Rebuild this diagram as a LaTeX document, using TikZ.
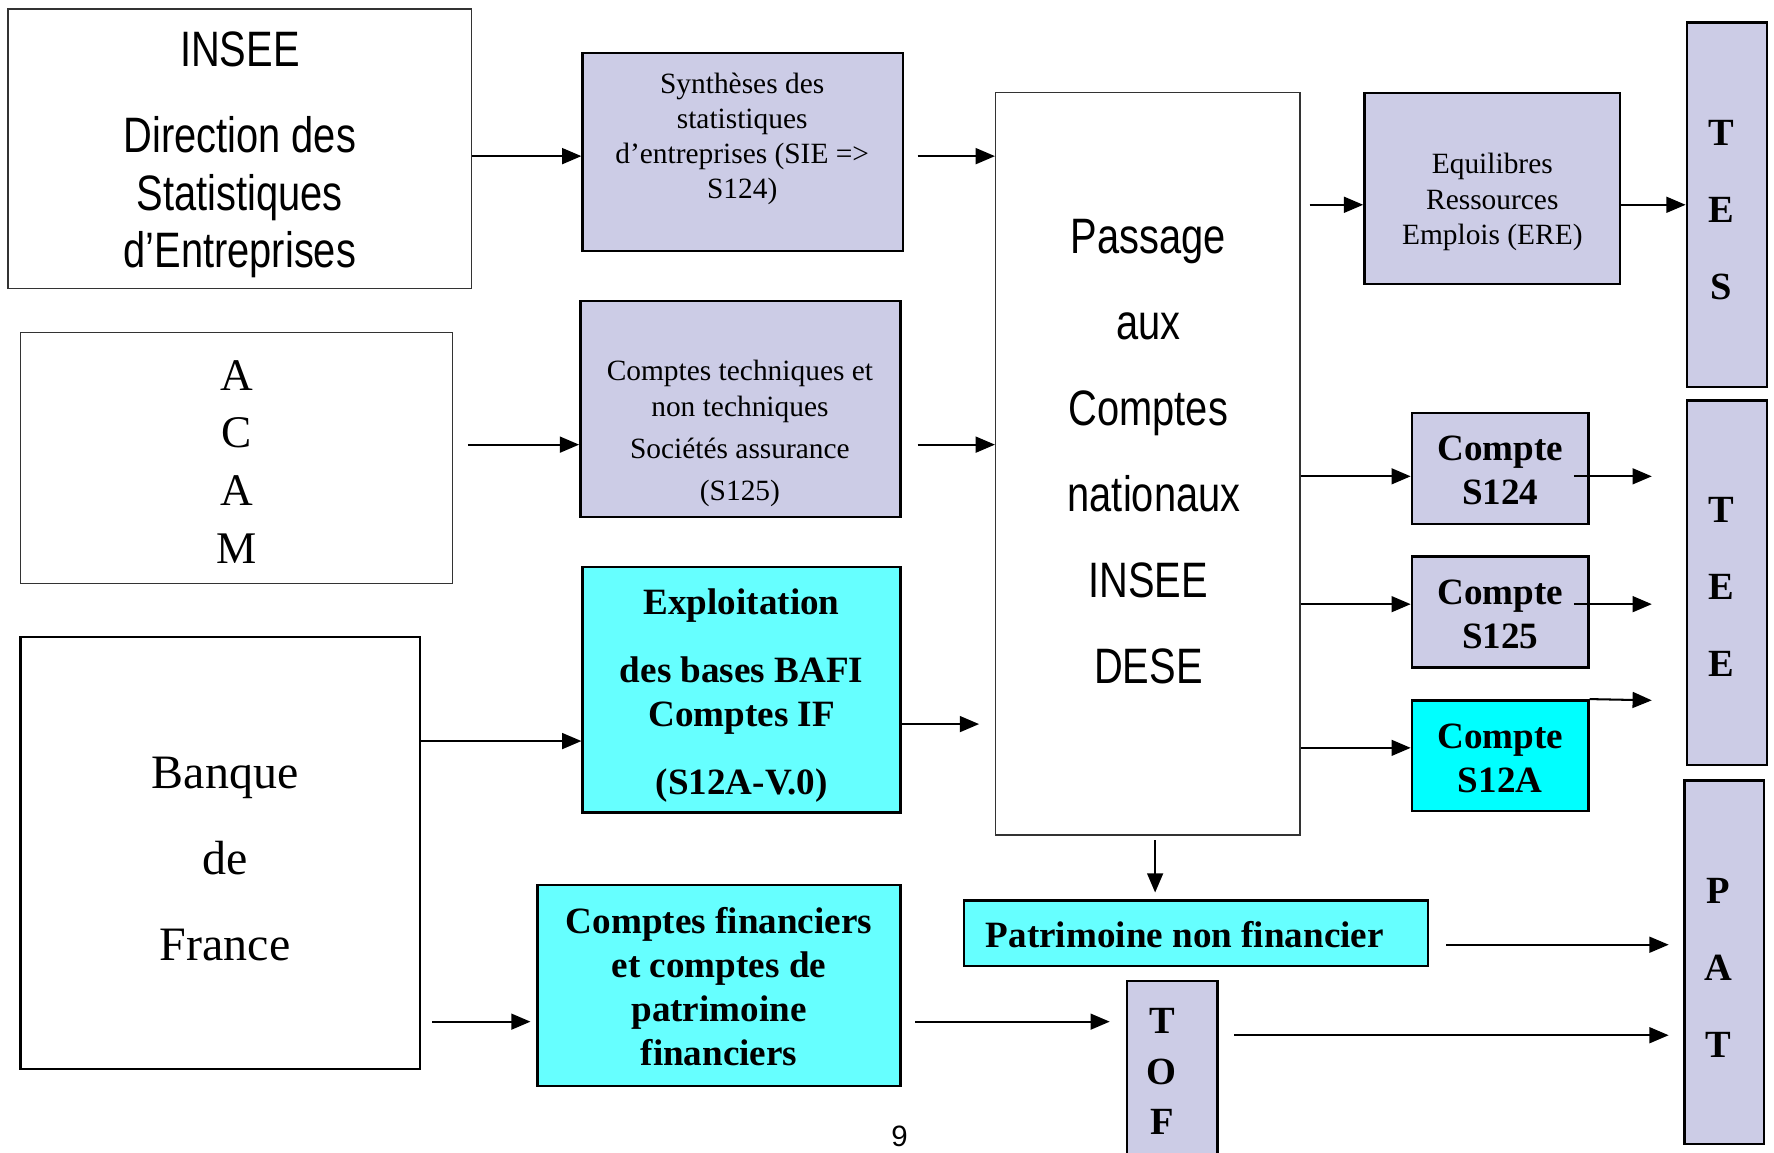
\documentclass[tikz,border=0pt]{standalone}
\usepackage{fontspec}
\setmainfont{Liberation Serif}
\newfontfamily\narrowsans[FakeStretch=0.8]{Liberation Sans}
\newfontfamily\plainsans{Liberation Sans}
\usetikzlibrary{arrows.meta}
\definecolor{lav}{RGB}{204,204,230}
\definecolor{cyl}{RGB}{102,255,255}
\definecolor{cyf}{RGB}{0,255,255}
\begin{document}
\begin{tikzpicture}[x=0.5pt,y=-0.5pt,
  thinbox/.style={draw=black!80,line width=0.6pt,fill=white,inner sep=0pt},
  lavbox/.style={draw=black,line width=1.1pt,fill=lav,inner sep=0pt},
  cybox/.style={draw=black,line width=1.1pt,fill=cyl,inner sep=0pt},
  arr/.style={-{Triangle[length=8.5pt,width=7pt]},line width=0.9pt},
  txt/.style={inner sep=0pt,align=center},
  bigsans/.style={font=\narrowsans\fontsize{22}{25.5}\selectfont},
  smallserif/.style={font=\fontsize{13}{15.5}\selectfont},
  boldserif/.style={font=\bfseries\fontsize{16.4}{19.5}\selectfont},
  letters/.style={font=\bfseries\fontsize{17}{34}\selectfont}]
\useasboundingbox (0,0) rectangle (1568,1019);
\clip (0,0) rectangle (1568,1019);
\fill[white] (0,0) rectangle (1568,1019);

% left column
\node[thinbox,minimum width=205pt,minimum height=123.5pt] (insee) at (212,131.5) {};
\node[txt,bigsans] (inseeT) at (212,137)
  {INSEE\\[12.5pt]Direction des\\Statistiques\\d’Entreprises};
\node[thinbox,minimum width=191pt,minimum height=111pt] (acam) at (209,405) {};
\node[txt,font=\fontsize{20}{25.5}\selectfont] (acamT) at (209,408) {A\\C\\A\\M};
\node[thinbox,draw=black,line width=1.1pt,minimum width=176.5pt,minimum height=191pt] (banque) at (194.5,754) {};
\node[txt,font=\fontsize{21.2}{38}\selectfont] (banqueT) at (199,759.5) {Banque\\de\\France};

% second column
\node[lavbox,minimum width=141.5pt,minimum height=87.5pt] (synth) at (656.5,134.5) {};
\node[txt,smallserif] (synthT) at (656,122.5)
  {Synthèses des\\statistiques\\d’entreprises (SIE =>\\S124)};
\node[lavbox,minimum width=141.5pt,minimum height=95.5pt] (ctech) at (654.5,361.5) {};
\node[txt,font=\fontsize{13}{16}\selectfont] (ctechT) at (654,383)
  {Comptes techniques et\\non techniques\\[2.5pt]Sociétés assurance\\[2.5pt](S125)};
\node[cybox,minimum width=140.5pt,minimum height=108.5pt] (expl) at (655.5,609.5) {};
\node[txt,boldserif] (explT) at (655.5,614.5)
  {Exploitation\\[10.5pt]des bases BAFI\\Comptes IF\\[10.5pt](S12A-V.0)};
\node[cybox,minimum width=160.5pt,minimum height=89pt] (cfin) at (635.5,871) {};
\node[txt,boldserif] (cfinT) at (635.5,872)
  {Comptes financiers\\et comptes de\\patrimoine\\financiers};

% central
\node[thinbox,minimum width=134.5pt,minimum height=328pt] (passage) at (1014.5,410) {};
\node[txt,font=\narrowsans\fontsize{22}{38}\selectfont] (passageT) at (1015,399)
  {Passage\\aux\\Comptes\\\hspace*{5pt}nationaux\\INSEE\\DESE};
\node[cybox,minimum width=205pt,minimum height=29pt] (patnf) at (1057,825) {};
\node[txt,anchor=west,boldserif] (patnfT) at (871,826) {Patrimoine non financier};
\node[lavbox,minimum width=40pt,minimum height=79pt] (tof) at (1036,946) {};
\node[txt,font=\bfseries\fontsize{17}{22.5}\selectfont] (tofT) at (1027,947) {T\\O\\F};

% right
\node[lavbox,minimum width=113pt,minimum height=84.5pt] (ere) at (1319,166.5) {};
\node[txt,font=\fontsize{13}{15.75}\selectfont] (ereT) at (1319,178.5)
  {Equilibres\\Ressources\\Emplois (ERE)};
\node[lavbox,minimum width=78pt,minimum height=49pt] (s124) at (1326,414) {};
\node[txt,boldserif] (s124T) at (1326,416) {Compte\\S124};
\node[lavbox,minimum width=78pt,minimum height=49pt] (s125) at (1326,541) {};
\node[txt,boldserif] (s125T) at (1326,543) {Compte\\S125};
\node[cybox,fill=cyf,minimum width=78pt,minimum height=49pt] (s12a) at (1326,668) {};
\node[txt,boldserif] (s12aT) at (1326,670) {Compte\\S12A};

\node[lavbox,minimum width=35.5pt,minimum height=161pt] (tes) at (1526.5,181) {};
\node[txt,letters] (tesT) at (1521,186) {T\\E\\S};
\node[lavbox,minimum width=35.5pt,minimum height=161pt] (tee) at (1526.5,515) {};
\node[txt,letters] (teeT) at (1521,519) {T\\E\\E};
\node[lavbox,minimum width=35pt,minimum height=160.5pt] (pat) at (1524,850.5) {};
\node[txt,letters] (patT) at (1519,855.5) {P\\A\\T};

\node[inner sep=0pt,font=\plainsans\fontsize{13}{15}\selectfont] (pagenum) at (795,1004) {9};

% helper coordinates
\coordinate (y138) at (0,138);
\coordinate (y181) at (0,181);
\coordinate (y393) at (0,393);
\coordinate (y421) at (0,421);
\coordinate (y534) at (0,534);
\coordinate (y640) at (0,640);
\coordinate (y655) at (0,655);
\coordinate (y661) at (0,661);
\coordinate (y835) at (0,835);
\coordinate (y903) at (0,903);
\coordinate (y915) at (0,915);
\coordinate (x1021) at (1021,0);
\coordinate (e124) at (1460,421);
\coordinate (e125) at (1460,534);
\coordinate (e12a) at (1460,619);

% connectors
\draw[arr] (insee.east |- y138) -- (synth.west |- y138);
\draw[arr,shorten <=6pt] (synth.east |- y138) -- (passage.west |- y138);
\draw[arr,shorten <=6.5pt] (acam.east |- y393) -- (ctech.west |- y393);
\draw[arr,shorten <=7pt] (ctech.east |- y393) -- (passage.west |- y393);
\draw[arr] (banque.east |- y655) -- (expl.west |- y655);
\draw[arr,shorten >=7pt] (expl.east |- y640) -- (passage.west |- y640);
\draw[arr,shorten <=5pt,shorten >=2.5pt] (banque.east |- y903) -- (cfin.west |- y903);
\draw[arr,shorten <=6pt,shorten >=7pt] (cfin.east |- y903) -- (tof.west |- y903);
\draw[arr,shorten <=4pt] (passage.east |- y181) -- (ere.west |- y181);
\draw[arr] (ere.east |- y181) -- (tes.west |- y181);
\draw[arr] (passage.east |- y421) -- (s124.west |- y421);
\draw[arr] (passage.east |- y534) -- (s125.west |- y534);
\draw[arr] (passage.east |- y661) -- (s12a.west |- y661);
\draw[arr,shorten <=-7pt] (s124.east |- e124) -- (e124);
\draw[arr,shorten <=-7pt] (s125.east |- e125) -- (e125);
\draw[arr] (s12a.north east) -- (e12a);
\draw[arr,shorten <=2pt,shorten >=3pt] (passage.south -| x1021) -- (patnf.north -| x1021);
\draw[arr,shorten <=7.5pt,shorten >=6.5pt] (patnf.east |- y835) -- (pat.west |- y835);
\draw[arr,shorten <=7pt,shorten >=6.5pt] (tof.east |- y915) -- (pat.west |- y915);
\end{tikzpicture}
\end{document}
